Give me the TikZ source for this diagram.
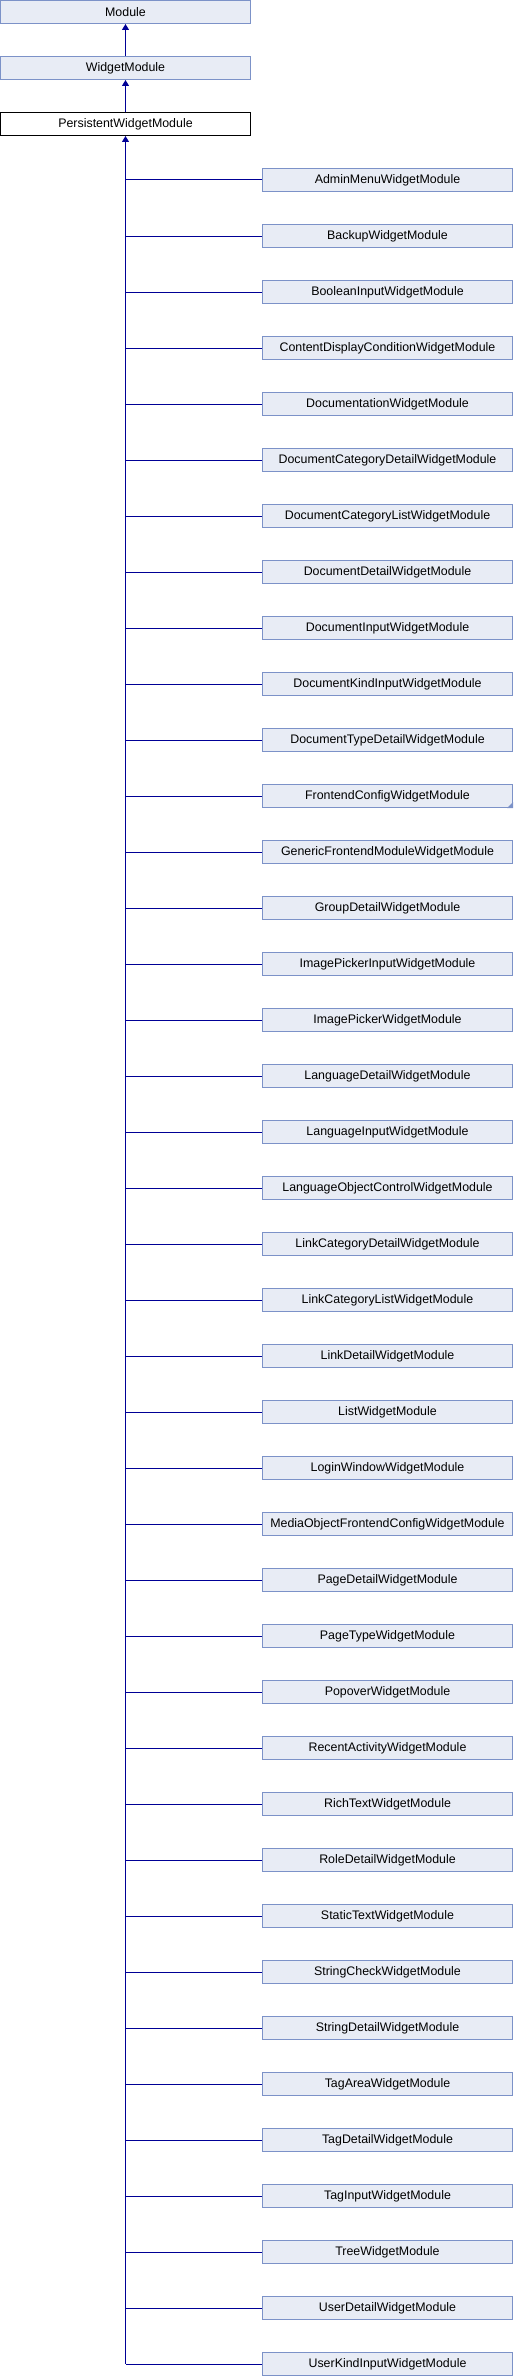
\documentclass[tikz,border=0pt]{standalone}
\usepackage{fontspec}
\setmainfont{Liberation Sans}
\usetikzlibrary{arrows.meta}
\definecolor{boxfill}{RGB}{232,236,245}
\definecolor{boxdraw}{RGB}{124,146,200}
\definecolor{edgecol}{RGB}{0,0,150}
\tikzset{
  cls/.style={draw=boxdraw, fill=boxfill, line width=1pt, minimum width=250pt, minimum height=23pt, inner sep=0pt, font=\fontsize{12.4}{14}\selectfont},
  curcls/.style={cls, draw=black, fill=white},
  inh/.style={draw=edgecol, line width=1pt, -{Triangle[width=7pt,length=6pt]}},
  link/.style={draw=edgecol, line width=1pt}
}
\begin{document}
\begin{tikzpicture}[x=1pt,y=-1pt]
\useasboundingbox (0,0) rectangle (514,2376);
\node[cls] (mod) at (125.5,12) {Module};
\node[cls] (wm) at (125.5,68) {WidgetModule};
\node[curcls] (pwm) at (125.5,124) {PersistentWidgetModule};
\draw[inh] (wm.north) -- (mod.south);
\draw[inh] (pwm.north) -- (wm.south);
\foreach \name [count=\i from 0] in {AdminMenuWidgetModule,BackupWidgetModule,BooleanInputWidgetModule,ContentDisplayConditionWidgetModule,DocumentationWidgetModule,DocumentCategoryDetailWidgetModule,DocumentCategoryListWidgetModule,DocumentDetailWidgetModule,DocumentInputWidgetModule,DocumentKindInputWidgetModule,DocumentTypeDetailWidgetModule,FrontendConfigWidgetModule,GenericFrontendModuleWidgetModule,GroupDetailWidgetModule,ImagePickerInputWidgetModule,ImagePickerWidgetModule,LanguageDetailWidgetModule,LanguageInputWidgetModule,LanguageObjectControlWidgetModule,LinkCategoryDetailWidgetModule,LinkCategoryListWidgetModule,LinkDetailWidgetModule,ListWidgetModule,LoginWindowWidgetModule,MediaObjectFrontendConfigWidgetModule,PageDetailWidgetModule,PageTypeWidgetModule,PopoverWidgetModule,RecentActivityWidgetModule,RichTextWidgetModule,RoleDetailWidgetModule,StaticTextWidgetModule,StringCheckWidgetModule,StringDetailWidgetModule,TagAreaWidgetModule,TagDetailWidgetModule,TagInputWidgetModule,TreeWidgetModule,UserDetailWidgetModule,UserKindInputWidgetModule} {
  \node[cls] (c\i) at (387.5,180+56*\i) {\name};
  \draw[link] (c\i.west) -- (pwm.south |- c\i.west);
}
\draw[inh] (pwm.south |- c39.west) -- (pwm.south);
\fill[boxdraw] (c11.south east) -- ++(0,-6) -- ++(-6,6) -- cycle;
\end{tikzpicture}
\end{document}
